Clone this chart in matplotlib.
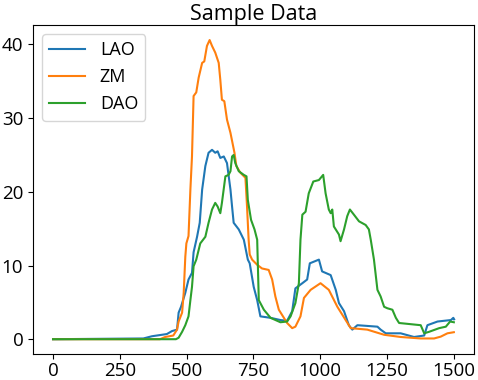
import matplotlib
matplotlib.use("Agg")
import matplotlib.pyplot as plt

plt.rcParams['font.family'] = ['Open Sans', 'DejaVu Sans']

# LAO (blue)
lao_x = [0, 338, 370, 426, 445, 464, 470, 479, 495, 507, 520, 526, 539, 549, 558, 570,
         582, 595, 607, 616, 626, 639, 651, 664, 670, 676, 695, 714, 729, 736, 751, 764,
         776, 814, 851, 876, 895, 907, 933, 951, 961, 995, 1007, 1039, 1058, 1070, 1089,
         1107, 1120, 1139, 1214, 1226, 1245, 1301, 1351, 1389, 1401, 1439, 1489, 1498, 1501]
lao_y = [0, 0.1, 0.4, 0.7, 1.1, 1.3, 3.6, 4.4, 6.3, 8.1, 9.0, 11.8, 13.9, 15.8, 20.3, 23.5,
         25.3, 25.7, 25.3, 25.5, 24.6, 24.8, 23.9, 20.3, 18.0, 15.8, 14.9, 13.5, 10.8, 10.3, 7.1, 5.3,
         3.1, 2.9, 2.6, 2.5, 3.8, 6.9, 7.6, 8.1, 10.3, 10.8, 9.2, 8.7, 6.7, 4.9, 3.8,
         1.9, 1.3, 1.9, 1.7, 1.3, 0.8, 0.8, 0.3, 0.5, 1.9, 2.4, 2.6, 2.9, 2.7]

# ZM (orange)
zm_x = [0, 400, 420, 450, 464, 470, 483, 489, 495, 499, 507, 514, 520, 526, 536, 545,
        558, 566, 576, 586, 595, 607, 620, 626, 632, 641, 651, 664, 674, 679, 686, 701,
        720, 726, 732, 736, 745, 764, 782, 807, 820, 832, 845, 876, 895, 907, 926, 939,
        964, 1001, 1032, 1064, 1095, 1114, 1176, 1239, 1301, 1376, 1426, 1451, 1476, 1500]
zm_y = [0, 0, 0.3, 0.5, 1.3, 2.4, 3.6, 6.3, 11.2, 13.0, 14.0, 20.3, 24.8, 33.0, 33.5, 35.5,
        37.5, 37.7, 39.8, 40.6, 39.8, 38.9, 37.5, 35.2, 32.5, 32.3, 29.8, 28.0, 26.2, 25.3, 23.5, 22.6,
        21.9, 18.0, 13.5, 11.5, 10.8, 10.1, 9.6, 9.4, 8.1, 5.8, 4.0, 2.2, 1.5, 1.7, 3.1, 5.6,
        6.7, 7.6, 6.7, 4.4, 2.6, 1.5, 1.3, 0.6, 0.3, 0.1, 0.1, 0.35, 0.8, 0.95]

# DAO (green)
dao_x = [0, 460, 470, 483, 495, 507, 514, 520, 526, 536, 551, 570, 582, 595, 607, 616,
         626, 632, 645, 657, 664, 670, 676, 682, 695, 714, 724, 729, 741, 754, 764, 770,
         789, 814, 851, 876, 889, 907, 920, 926, 933, 945, 957, 974, 995, 1011, 1020, 1032,
         1039, 1045, 1051, 1070, 1076, 1089, 1101, 1111, 1126, 1145, 1170, 1182, 1189, 1201,
         1214, 1226, 1239, 1251, 1270, 1283, 1295, 1376, 1389, 1407, 1445, 1470, 1486, 1500]
dao_y = [0, 0, 0.2, 1.0, 1.9, 3.1, 5.3, 7.1, 9.9, 10.8, 13.0, 13.9, 15.8, 17.6, 18.5, 18.0,
         17.1, 18.5, 22.1, 22.3, 22.8, 24.8, 25.0, 23.9, 22.8, 22.3, 22.1, 18.9, 16.2, 14.9, 13.5, 5.3,
         4.0, 2.9, 2.3, 2.4, 3.1, 4.9, 7.6, 13.5, 16.9, 17.3, 19.8, 21.4, 21.6, 22.3, 19.8, 17.6,
         17.1, 17.6, 15.3, 14.2, 13.3, 14.9, 16.7, 17.6, 16.9, 16.0, 15.5, 14.9, 13.5, 10.8,
         6.7, 5.8, 4.4, 4.2, 4.0, 2.9, 2.2, 1.9, 0.8, 1.0, 1.5, 1.7, 2.4, 2.3]

fig = plt.figure(figsize=(4.78, 3.80), dpi=100)
ax = fig.add_axes([0.069, 0.068, 0.923, 0.866])

ax.plot(lao_x, lao_y, label='LAO')
ax.plot(zm_x, zm_y, label='ZM')
ax.plot(dao_x, dao_y, label='DAO')

ax.set_title('Sample Data', fontsize=15.5, pad=4)
ax.set_xticks([0, 250, 500, 750, 1000, 1250, 1500])
ax.set_yticks([0, 10, 20, 30, 40])
ax.tick_params(labelsize=13.5)
ax.tick_params(axis='x', pad=2)
ax.legend(loc='upper left', fontsize=13)

fig.savefig('out.png', dpi=100)
